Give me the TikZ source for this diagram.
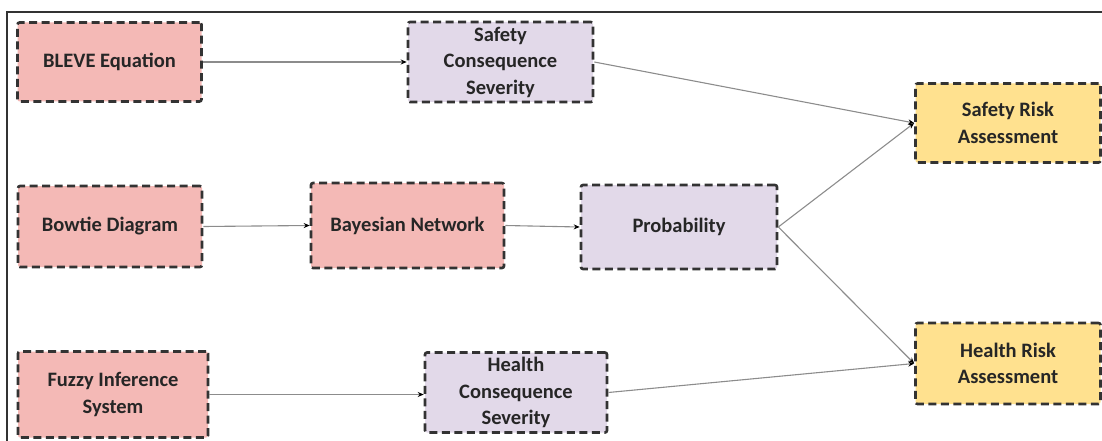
\documentclass[tikz,border=0pt]{standalone}
\usepackage{fontspec}
\setmainfont{Carlito}
\usetikzlibrary{arrows.meta}
\definecolor{boxpink}{HTML}{F4B9B6}
\definecolor{boxlilac}{HTML}{E2D9E9}
\definecolor{boxyellow}{HTML}{FFE18F}
\definecolor{edgegray}{HTML}{333333}
\definecolor{linkgray}{HTML}{8C8C8C}
\definecolor{textdark}{HTML}{262626}
\tikzset{
  stepbox/.style={draw=edgegray, line width=2.6pt, dash pattern=on 8pt off 4.5pt,
    rounded corners=2pt, align=center, inner sep=2pt, text=textdark,
    font=\bfseries\fontsize{20.5}{26.5}\selectfont},
  inputbox/.style={stepbox, fill=boxpink},
  midbox/.style={stepbox, fill=boxlilac},
  riskbox/.style={stepbox, fill=boxyellow},
  link/.style={draw=linkgray, line width=1.1pt, -{Stealth[length=6pt,width=5pt,color=black]}},
}
\begin{document}
\begin{tikzpicture}[x=1pt,y=-1pt]
\useasboundingbox (0,0) rectangle (1102,441);
% open frame on the left and top
\draw[line width=1.4pt, edgegray] (7,441) -- (7,12) -- (1102,12);

% input methods
\node[inputbox, minimum width=184pt, minimum height=79pt] (bleve) at (109.5,62) {BLEVE Equation};
\node[inputbox, minimum width=184pt, minimum height=81pt] (bowtie) at (110,226.5) {Bowtie Diagram};
\node[inputbox, minimum width=190pt, minimum height=86pt] (fuzzy) at (113,394.5) {Fuzzy Inference\\System};
\node[inputbox, minimum width=193pt, minimum height=85pt] (bayes) at (407.5,225.5) {Bayesian Network};

% intermediate quantities
\node[midbox, minimum width=185pt, minimum height=80pt] (scs) at (500.5,62) {Safety\\Consequence\\Severity};
\node[midbox, minimum width=196pt, minimum height=84pt] (prob) at (679,227) {Probability};
\node[midbox, minimum width=182pt, minimum height=80pt] (hcs) at (516,392.5) {Health\\Consequence\\Severity};

% assessments
\node[riskbox, minimum width=185pt, minimum height=79pt] (sra) at (1008,123) {Safety Risk\\Assessment};
\node[riskbox, minimum width=185pt, minimum height=81pt] (hra) at (1008,363.5) {Health Risk\\Assessment};

% connectors
\draw[link] (bleve.east) -- (scs.west);
\draw[link] (bowtie.east) -- (bayes.west);
\draw[link] (bayes.east) -- (prob.west);
\draw[link] (fuzzy.east) -- (hcs.west |- fuzzy.east);
\draw[link] (scs.east) -- (sra.west);
\draw[link] (prob.east) -- (sra.west);
\draw[link] (prob.east) -- (hra.west);
\draw[link] (hcs.east) -- (hra.west);
\end{tikzpicture}
\end{document}
